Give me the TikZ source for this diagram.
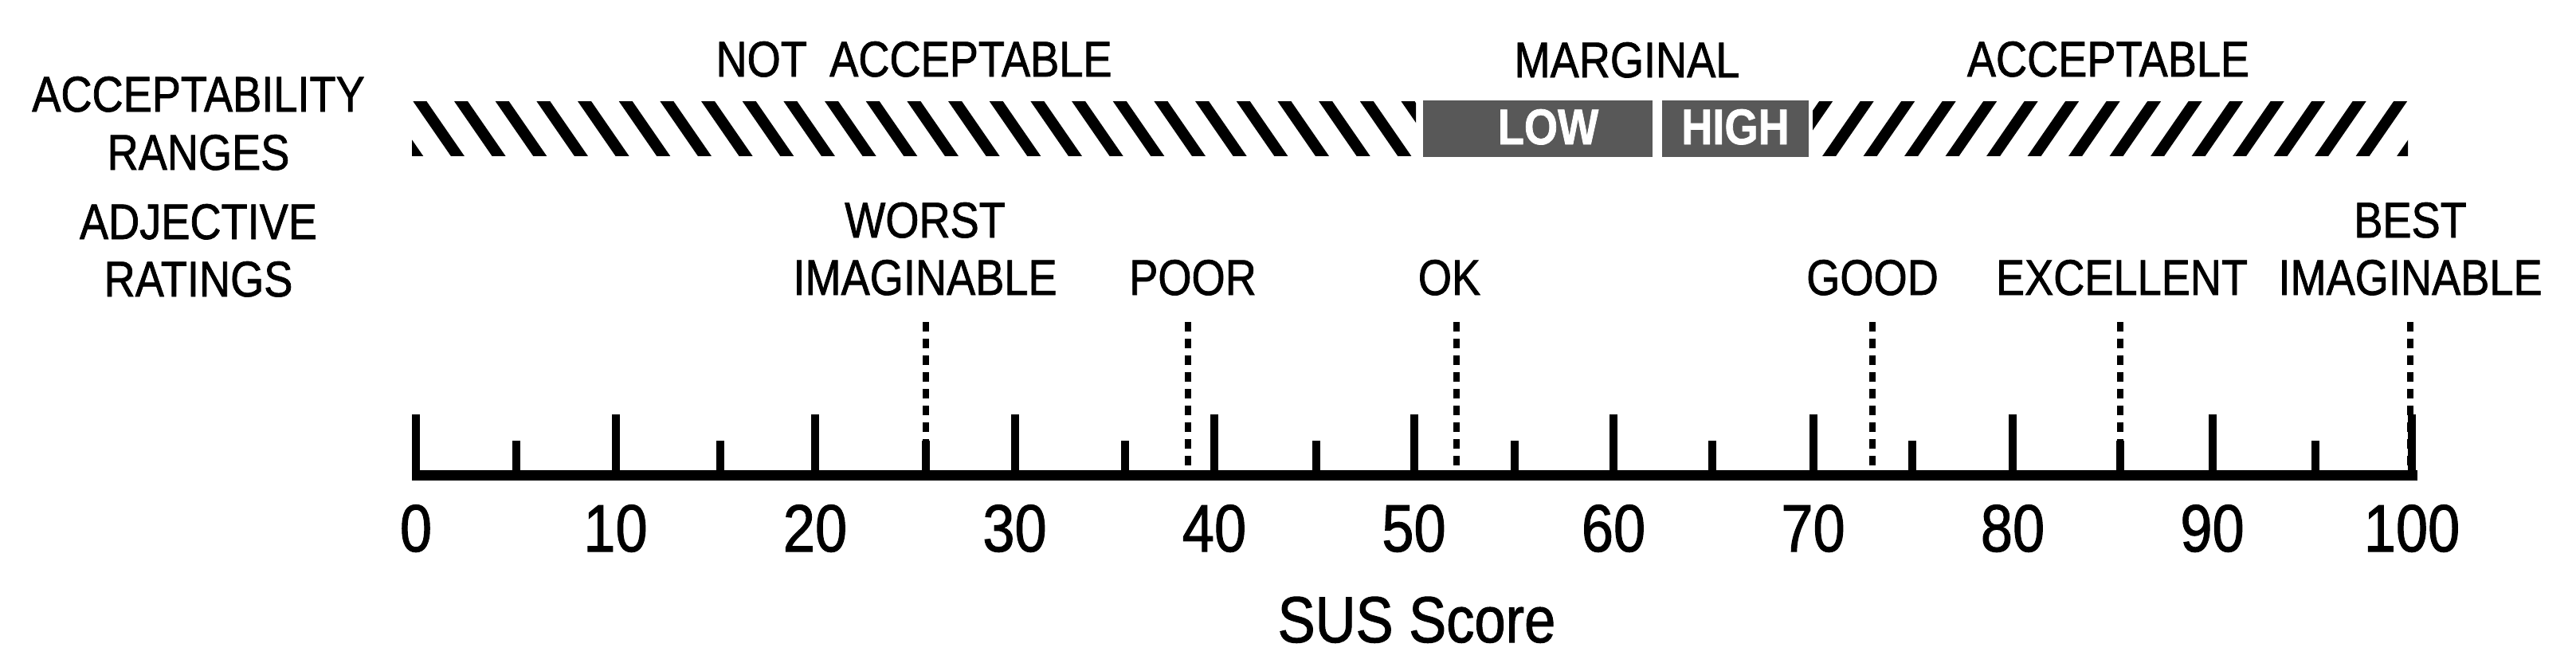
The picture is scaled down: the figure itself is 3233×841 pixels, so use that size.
\documentclass[tikz,border=0pt]{standalone}
\usepackage{fontspec}
\setmainfont{Liberation Sans}[FakeStretch=0.86, FakeBold=1.2]
\definecolor{boxgray}{HTML}{585858}
\tikzset{
  lbl/.style={anchor=base, inner sep=0pt, font=\fontsize{63}{70}\selectfont},
  boxlbl/.style={anchor=base, inner sep=0pt, text=white, font=\fontsize{63}{70}\selectfont\bfseries},
  num/.style={anchor=base, inner sep=0pt, font=\fontsize{84}{90}\selectfont},
  bigtick/.style={line width=10pt},
  smalltick/.style={line width=10pt},
  adjline/.style={line width=8pt, dash pattern=on 12pt off 9pt},
  hatchline/.style={line width=14pt},
  axisline/.style={line width=13pt},
}
\begin{document}
\begin{tikzpicture}[x=1pt,y=-1pt]
\useasboundingbox (0,0) rectangle (3233,841);
% left labels
\node[lbl] (ar1) at (249,140) {ACCEPTABILITY};
\node[lbl] (ar2) at (249,213) {RANGES};
\node[lbl] (ad1) at (249,300) {ADJECTIVE};
\node[lbl] (ad2) at (249,372) {RATINGS};
% range titles
\node[lbl] (notacc) at (1147,96) {NOT\hspace{0.45em}ACCEPTABLE};
\node[lbl] (marg) at (2042,97) {MARGINAL};
\node[lbl] (acc) at (2646,96) {ACCEPTABLE};
% hatched: not acceptable
\begin{scope}
\clip (517,127) rectangle (1777,195);
\foreach \k in {-1,...,25} \draw[hatchline] ({522+51.67*\k},120) -- ++(56.6,82);
\end{scope}
% hatched: acceptable
\begin{scope}
\clip (2275,127) rectangle (3022,195);
\foreach \k in {-2,...,15} \draw[hatchline] ({2348+51.5*\k},120) -- ++(-56.6,82);
\end{scope}
% marginal boxes
\fill[boxgray] (1786,126) rectangle (2074,197);
\fill[boxgray] (2086,126) rectangle (2270,197);
\node[boxlbl] (low) at (1943,181) {LOW};
\node[boxlbl] (high) at (2178,181) {HIGH};
% adjective labels
\node[lbl] (worst1) at (1161,298) {WORST};
\node[lbl] (worst2) at (1161,370) {IMAGINABLE};
\node[lbl] (poor) at (1497,370) {POOR};
\node[lbl] (ok) at (1819,370) {OK};
\node[lbl] (good) at (2350,370) {GOOD};
\node[lbl] (exc) at (2663,370) {EXCELLENT};
\node[lbl] (best1) at (3025,298) {BEST};
\node[lbl] (best2) at (3025,370) {IMAGINABLE};
% adjective markers
\coordinate (wa) at (1162,404); \coordinate (wb) at (1162,590);
\coordinate (pa) at (1491,404); \coordinate (pb) at (1491,590);
\coordinate (oa) at (1828,404); \coordinate (ob) at (1828,590);
\coordinate (ga) at (2350,404); \coordinate (gb) at (2350,590);
\coordinate (ea) at (2661,404); \coordinate (eb) at (2661,590);
\coordinate (ba) at (3025,404); \coordinate (bb) at (3025,590);
\draw[adjline] (wa) -- (wb);
\draw[adjline] (pa) -- (pb);
\draw[adjline] (oa) -- (ob);
\draw[adjline] (ga) -- (gb);
\draw[adjline] (ea) -- (eb);
\draw[adjline] (ba) -- (bb);
% ticks
\foreach \s in {0,10,...,100} \draw[bigtick] ({522+25.05*\s},597) -- ({522+25.05*\s},520);
\foreach \x in {648,904,1162,1412,1652,1901,2149,2400,2661,2906} \draw[smalltick] (\x,597) -- (\x,553);
% axis
\coordinate (axL) at (517,596.5);
\coordinate (axR) at (3034,596.5);
\draw[axisline] (axL) -- (axR);
% numbers
\foreach \s in {0,10,...,100} \node[num] (n\s) at ({522+25.05*\s},692) {\s};
% axis title
\node[lbl, font=\fontsize{82}{90}\selectfont] (sus) at (1778,806) {SUS Score};
\end{tikzpicture}
\end{document}
